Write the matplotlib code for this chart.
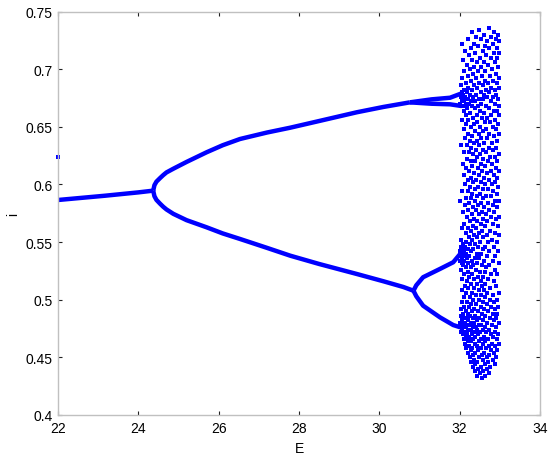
import numpy as np
import matplotlib
matplotlib.use("Agg")
import matplotlib.pyplot as plt

plt.rcParams['font.family'] = ['Liberation Sans', 'DejaVu Sans']

# single branch before the first bifurcation
main_E = [22.0, 23.17, 24.0, 24.37]
main_i = [0.5865, 0.5902, 0.5931, 0.5946]
stray_E = [22.0]
stray_i = [0.624]

# period-2 branches
upper_E = [24.37, 24.40, 24.45, 24.54, 24.62, 24.70, 24.87, 25.20, 25.70, 26.10,
           26.53, 27.20, 27.78, 28.50, 29.44, 30.10, 30.76]
upper_i = [0.5946, 0.5993, 0.6024, 0.6055, 0.6081, 0.6104, 0.6136, 0.6195, 0.6279, 0.6340,
           0.6394, 0.6450, 0.6492, 0.6550, 0.6626, 0.6672, 0.6712]
lower_E = [24.37, 24.40, 24.45, 24.54, 24.62, 24.70, 24.87, 25.20, 25.70, 26.10,
           26.53, 27.20, 27.78, 28.50, 29.44, 30.10, 30.60, 30.85]
lower_i = [0.5946, 0.5898, 0.5866, 0.5833, 0.5806, 0.5783, 0.5745, 0.5690, 0.5628, 0.5575,
           0.5527, 0.5450, 0.5382, 0.5310, 0.5223, 0.5160, 0.5110, 0.5078]

# period-4 branches
up_a_E = [30.76, 31.30, 31.76, 32.05]
up_a_i = [0.6712, 0.6738, 0.6752, 0.6790]
up_b_E = [30.76, 31.30, 31.76, 32.05]
up_b_i = [0.6712, 0.6700, 0.6695, 0.6680]
lo_a_E = [30.85, 30.92, 31.09, 31.51, 31.84, 32.02]
lo_a_i = [0.5078, 0.5125, 0.5195, 0.5267, 0.5325, 0.5400]
lo_b_E = [30.85, 30.92, 31.09, 31.51, 31.84, 32.02]
lo_b_i = [0.5078, 0.5030, 0.4948, 0.4847, 0.4780, 0.4760]

# chaotic region, read row by row (i of the row, E of the dots in it)
cloud_rows_i = [
    0.736, 0.734, 0.732, 0.730, 0.728, 0.726, 0.724, 0.722, 0.720, 0.718,
    0.716, 0.714, 0.712, 0.710, 0.708, 0.706, 0.704, 0.702, 0.700, 0.698,
    0.696, 0.694, 0.692, 0.690, 0.688, 0.686, 0.684, 0.682, 0.680, 0.678,
    0.676, 0.674, 0.672, 0.670, 0.668, 0.666, 0.664, 0.662, 0.660, 0.658,
    0.656, 0.654, 0.652, 0.650, 0.648, 0.646, 0.644, 0.642, 0.640, 0.638,
    0.636, 0.634, 0.632, 0.630, 0.628, 0.626, 0.624, 0.622, 0.620, 0.618,
    0.616, 0.614, 0.612, 0.610, 0.608, 0.606, 0.604, 0.602, 0.600, 0.598,
    0.596, 0.594, 0.592, 0.590, 0.588, 0.586, 0.584, 0.582, 0.580, 0.578,
    0.576, 0.574, 0.572, 0.570, 0.568, 0.566, 0.564, 0.562, 0.560, 0.558,
    0.556, 0.554, 0.552, 0.550, 0.548, 0.546, 0.544, 0.542, 0.540, 0.538,
    0.536, 0.534, 0.532, 0.530, 0.528, 0.526, 0.524, 0.522, 0.520, 0.518,
    0.516, 0.514, 0.512, 0.510, 0.508, 0.506, 0.504, 0.502, 0.500, 0.498,
    0.496, 0.494, 0.492, 0.490, 0.488, 0.486, 0.484, 0.482, 0.480, 0.478,
    0.476, 0.474, 0.472, 0.470, 0.468, 0.466, 0.464, 0.462, 0.460, 0.458,
    0.456, 0.454, 0.452, 0.450, 0.448, 0.446, 0.444, 0.442, 0.440, 0.438,
    0.436, 0.434, 0.432]
cloud_rows_E = [
    [32.72], [32.48], [32.30, 32.86], [32.61, 32.95], [32.40, 32.77],
    [32.22, 32.53, 32.90], [32.68, 32.97], [32.05, 32.35, 32.82], [32.46, 32.63],
    [32.27, 32.74, 32.92],
    [32.14, 32.57], [32.38, 32.85, 32.98], [32.23, 32.66], [32.50, 32.78, 32.94],
    [32.09, 32.31], [32.42, 32.60, 32.88], [32.19, 32.71], [32.35, 32.53, 32.96],
    [32.26, 32.80], [32.11, 32.45, 32.64],
    [32.33, 32.90], [32.20, 32.56, 32.75], [32.07, 32.40, 32.98], [32.29, 32.62, 32.84],
    [32.15, 32.48, 32.70, 32.93], [32.04, 32.36, 32.57], [32.22, 32.44, 32.79, 32.97],
    [32.12, 32.30, 32.66, 32.88], [32.06, 32.18, 32.52, 32.74],
    [32.09, 32.25, 32.41, 32.60, 32.91],
    [32.03, 32.14, 32.34, 32.69, 32.83], [32.07, 32.20, 32.47, 32.58, 32.96],
    [32.05, 32.12, 32.28, 32.39, 32.77], [32.02, 32.16, 32.24, 32.53, 32.88],
    [32.08, 32.31, 32.45, 32.65, 32.98], [32.19, 32.37, 32.72],
    [32.11, 32.50, 32.85, 32.93], [32.26, 32.61], [32.15, 32.42, 32.79, 32.97],
    [32.33, 32.55, 32.68],
    [32.06, 32.22, 32.89], [32.44, 32.62, 32.76], [32.17, 32.36, 32.95],
    [32.28, 32.51, 32.83], [32.10, 32.66, 32.90], [32.39, 32.58],
    [32.21, 32.47, 32.73, 32.98], [32.30, 32.86], [32.13, 32.54, 32.69],
    [32.25, 32.42, 32.94],
    [32.35, 32.61, 32.80], [32.03, 32.18, 32.49], [32.29, 32.72, 32.91],
    [32.40, 32.57, 32.84], [32.12, 32.23, 32.66], [32.33, 32.50, 32.97],
    [32.44, 32.75, 32.88], [32.19, 32.59], [32.27, 32.38, 32.70, 32.93],
    [32.08, 32.52, 32.81],
    [32.31, 32.63], [32.16, 32.45, 32.90], [32.24, 32.56, 32.77, 32.98],
    [32.36, 32.67], [32.11, 32.48, 32.85], [32.28, 32.60, 32.94],
    [32.20, 32.41, 32.73], [32.34, 32.53, 32.88], [32.14, 32.64, 32.80],
    [32.26, 32.46, 32.96],
    [32.38, 32.57, 32.71], [32.05, 32.22, 32.84], [32.31, 32.50, 32.92],
    [32.43, 32.66, 32.78], [32.17, 32.29, 32.58], [32.02, 32.37, 32.87, 32.97],
    [32.24, 32.52, 32.70], [32.13, 32.45, 32.82], [32.33, 32.61, 32.93],
    [32.21, 32.40, 32.74],
    [32.09, 32.55, 32.86], [32.30, 32.47, 32.65], [32.18, 32.79, 32.98],
    [32.36, 32.58, 32.90], [32.25, 32.44, 32.69], [32.12, 32.52, 32.83],
    [32.32, 32.62, 32.95], [32.06, 32.20, 32.41], [32.28, 32.56, 32.76],
    [32.15, 32.47, 32.88],
    [32.35, 32.67, 32.97], [32.23, 32.43, 32.59], [32.04, 32.31, 32.80],
    [32.17, 32.50, 32.71, 32.92], [32.08, 32.26, 32.38],
    [32.03, 32.13, 32.46, 32.64, 32.85], [32.06, 32.21, 32.33, 32.57],
    [32.02, 32.10, 32.29, 32.74, 32.96], [32.05, 32.16, 32.42, 32.53],
    [32.03, 32.09, 32.24, 32.68, 32.89],
    [32.07, 32.19, 32.37, 32.49], [32.02, 32.12, 32.30, 32.61, 32.82],
    [32.05, 32.22, 32.44, 32.98], [32.09, 32.34, 32.55, 32.73],
    [32.16, 32.27, 32.66], [32.04, 32.40, 32.87], [32.20, 32.51, 32.62],
    [32.11, 32.31, 32.78, 32.94], [32.24, 32.46, 32.58], [32.07, 32.36, 32.70],
    [32.18, 32.52, 32.85], [32.28, 32.42, 32.64], [32.13, 32.56, 32.91],
    [32.22, 32.35, 32.76], [32.05, 32.48, 32.60], [32.17, 32.30, 32.69, 32.97],
    [32.40, 32.53, 32.83], [32.10, 32.25, 32.63], [32.34, 32.47, 32.75, 32.92],
    [32.06, 32.19, 32.57, 32.86],
    [32.28, 32.41, 32.67], [32.12, 32.23, 32.52, 32.79, 32.96],
    [32.04, 32.35, 32.61, 32.89], [32.15, 32.30, 32.46, 32.71],
    [32.08, 32.20, 32.55, 32.83, 32.94], [32.03, 32.26, 32.38, 32.64],
    [32.11, 32.17, 32.33, 32.49, 32.76, 32.90], [32.05, 32.22, 32.43, 32.58, 32.85],
    [32.02, 32.09, 32.14, 32.29, 32.36, 32.68, 32.97],
    [32.06, 32.19, 32.25, 32.47, 32.53, 32.80],
    [32.03, 32.11, 32.16, 32.32, 32.40, 32.62, 32.91],
    [32.07, 32.21, 32.27, 32.44, 32.57, 32.74],
    [32.04, 32.13, 32.35, 32.50, 32.66, 32.87],
    [32.09, 32.18, 32.30, 32.45, 32.78, 32.95],
    [32.15, 32.24, 32.39, 32.60, 32.83], [32.10, 32.33, 32.54, 32.70, 32.92],
    [32.20, 32.28, 32.48, 32.64], [32.14, 32.37, 32.58, 32.81, 32.98],
    [32.24, 32.43, 32.72, 32.89], [32.17, 32.31, 32.52, 32.66],
    [32.27, 32.46, 32.78, 32.94], [32.20, 32.38, 32.61, 32.86],
    [32.33, 32.55, 32.74], [32.25, 32.48, 32.68, 32.91], [32.36, 32.58, 32.82],
    [32.29, 32.44, 32.71], [32.39, 32.63, 32.88], [32.32, 32.52, 32.76],
    [32.45, 32.67], [32.37, 32.58],
    [32.50, 32.73], [32.43, 32.62], [32.55]]

cloud_E = [e for row in cloud_rows_E for e in row]
cloud_i = [v for v, row in zip(cloud_rows_i, cloud_rows_E) for e in row]

blue = '#0000ff'
fig = plt.figure(figsize=(5.5, 4.6), dpi=100)
ax = fig.add_axes([0.1055, 0.0957, 0.8763, 0.8771])

for xs, ys in [(main_E, main_i), (upper_E, upper_i), (lower_E, lower_i),
               (up_a_E, up_a_i), (up_b_E, up_b_i), (lo_a_E, lo_a_i), (lo_b_E, lo_b_i)]:
    ax.plot(xs, ys, color=blue, lw=3.2, solid_capstyle='butt', solid_joinstyle='round')
ax.plot(stray_E, stray_i, 's', color=blue, ms=2.2, mew=0, clip_on=False)
ax.plot(cloud_E, cloud_i, 's', color=blue, ms=2.2, mew=0)

ax.set_xlim(22, 34)
ax.set_ylim(0.4, 0.75)
ax.set_xticks([22, 24, 26, 28, 30, 32, 34])
ax.set_yticks([0.4, 0.45, 0.5, 0.55, 0.6, 0.65, 0.7, 0.75])
ax.set_yticklabels(['0.4', '0.45', '0.5', '0.55', '0.6', '0.65', '0.7', '0.75'])
for s in ax.spines.values():
    s.set_color('#c0c0c0')
    s.set_linewidth(1.0)
ax.tick_params(direction='in', length=3, width=0.8, color='#222222',
               top=True, right=True, labelsize=10, pad=4)
ax.set_xlabel('E', fontsize=10, labelpad=5)
ax.set_ylabel('i', fontsize=10, labelpad=4)

fig.savefig('out.png', dpi=100)
